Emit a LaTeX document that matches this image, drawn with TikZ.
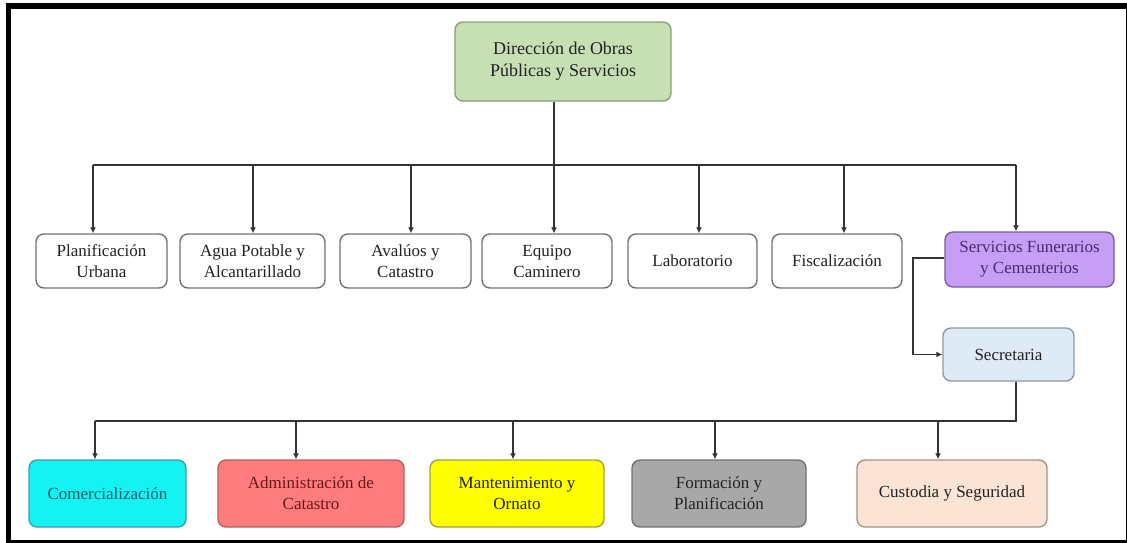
\documentclass[tikz,border=0pt]{standalone}
\usepackage{fontspec}
\newfontfamily\boxfont{LiberationSerif}[Extension=.ttf, UprightFont=*-Regular, BoldFont=*-Bold]
\usetikzlibrary{arrows.meta}

\definecolor{topfill}{HTML}{C6E0B4}
\definecolor{topdraw}{HTML}{8A9E7C}
\definecolor{funfill}{HTML}{C79EF5}
\definecolor{fundraw}{HTML}{7A5C9E}
\definecolor{funtext}{HTML}{4A2A70}
\definecolor{secfill}{HTML}{DEEBF7}
\definecolor{secdraw}{HTML}{8C9AA8}
\definecolor{comfill}{HTML}{14F2F2}
\definecolor{comdraw}{HTML}{3C9EAE}
\definecolor{comtext}{HTML}{175A68}
\definecolor{admfill}{HTML}{FF7C7E}
\definecolor{admdraw}{HTML}{B0605E}
\definecolor{admtext}{HTML}{6A1818}
\definecolor{manfill}{HTML}{FFFF00}
\definecolor{mandraw}{HTML}{A4A040}
\definecolor{forfill}{HTML}{A8A8A8}
\definecolor{fordraw}{HTML}{727272}
\definecolor{cusfill}{HTML}{FBE4D6}
\definecolor{cusdraw}{HTML}{A49284}
\definecolor{boxdraw}{HTML}{727272}
\definecolor{txt}{HTML}{222222}
\definecolor{wire}{HTML}{333333}

\tikzset{
  unit/.style={draw=boxdraw, fill=white, line width=1.4pt, rounded corners=8pt,
    inner sep=0pt, align=center, text=txt,
    font=\boxfont\fontsize{17}{21}\selectfont},
  wireline/.style={draw=wire, line width=1.8pt},
  arr/.style={wireline, -{Latex[length=6pt,width=6pt]}},
}

\begin{document}
\begin{tikzpicture}[x=1pt, y=-1pt]
\useasboundingbox (0,0) rectangle (1127,542);

% outer frame
\draw[line width=5.5pt, black] (8.5,6) rectangle (1128.5,542.5);

% head office
\node[unit, fill=topfill, draw=topdraw, minimum width=216pt, minimum height=79pt,
      font=\boxfont\fontsize{18}{22}\selectfont]
  (dir) at (563,61.5) {Dirección de Obras\\Públicas y Servicios};

% departments
\node[unit, minimum width=131pt, minimum height=54pt] (plan) at (101.5,261) {Planificación\\Urbana};
\node[unit, minimum width=145pt, minimum height=54pt] (agua) at (252.5,261) {Agua Potable y\\Alcantarillado};
\node[unit, minimum width=131pt, minimum height=54pt] (aval) at (405.5,261) {Avalúos y\\Catastro};
\node[unit, minimum width=130pt, minimum height=54pt] (equi) at (547,261) {Equipo\\Caminero};
\node[unit, minimum width=129pt, minimum height=54pt] (labo) at (692.5,261) {Laboratorio};
\node[unit, minimum width=130pt, minimum height=54pt] (fisc) at (837,261) {Fiscalización};
\node[unit, fill=funfill, draw=fundraw, text=funtext, minimum width=169pt, minimum height=55pt]
  (fune) at (1029.5,259.5) {Servicios Funerarios\\y Cementerios};

% secretary
\node[unit, fill=secfill, draw=secdraw, minimum width=131pt, minimum height=53pt]
  (secr) at (1008.5,354.5) {Secretaria};

% sections
\node[unit, fill=comfill, draw=comdraw, text=comtext, minimum width=157pt, minimum height=67pt]
  (come) at (107.5,493.5) {Comercialización};
\node[unit, fill=admfill, draw=admdraw, text=admtext, minimum width=186pt, minimum height=67pt]
  (admi) at (311,493.5) {Administración de\\Catastro};
\node[unit, fill=manfill, draw=mandraw, minimum width=174pt, minimum height=67pt]
  (mant) at (517,493.5) {Mantenimiento y\\Ornato};
\node[unit, fill=forfill, draw=fordraw, minimum width=174pt, minimum height=67pt]
  (form) at (719,493.5) {Formación y\\Planificación};
\node[unit, fill=cusfill, draw=cusdraw, minimum width=190pt, minimum height=67pt]
  (cust) at (952,493.5) {Custodia y Seguridad};

% first distribution bus
\coordinate (h0) at (554,165);
\coordinate (h1) at (93,165);
\coordinate (h2) at (253,165);
\coordinate (h3) at (411,165);
\coordinate (h4) at (554,165);
\coordinate (h5) at (699,165);
\coordinate (h6) at (844,165);
\coordinate (h7) at (1016,165);
\draw[wireline] (h0 |- dir.south) -- (h0);
\draw[wireline] (h1) -- (h7);
\draw[arr] (h1) -- (h1 |- plan.north);
\draw[arr] (h2) -- (h2 |- agua.north);
\draw[arr] (h3) -- (h3 |- aval.north);
\draw[arr] (h4) -- (h4 |- equi.north);
\draw[arr] (h5) -- (h5 |- labo.north);
\draw[arr] (h6) -- (h6 |- fisc.north);
\draw[arr] (h7) -- (h7 |- fune.north);

% link to the secretary
\coordinate (s1) at (913,258);
\draw[arr] (s1 -| fune.west) -- (s1) |- (secr.west);

% second distribution bus
\coordinate (g0) at (1016,421);
\coordinate (g1) at (95,421);
\coordinate (g2) at (296,421);
\coordinate (g3) at (513,421);
\coordinate (g4) at (715,421);
\coordinate (g5) at (938,421);
\draw[wireline] (g0 |- secr.south) -- (g0) -- (g1);
\draw[arr] (g1) -- (g1 |- come.north);
\draw[arr] (g2) -- (g2 |- admi.north);
\draw[arr] (g3) -- (g3 |- mant.north);
\draw[arr] (g4) -- (g4 |- form.north);
\draw[arr] (g5) -- (g5 |- cust.north);
\end{tikzpicture}
\end{document}
